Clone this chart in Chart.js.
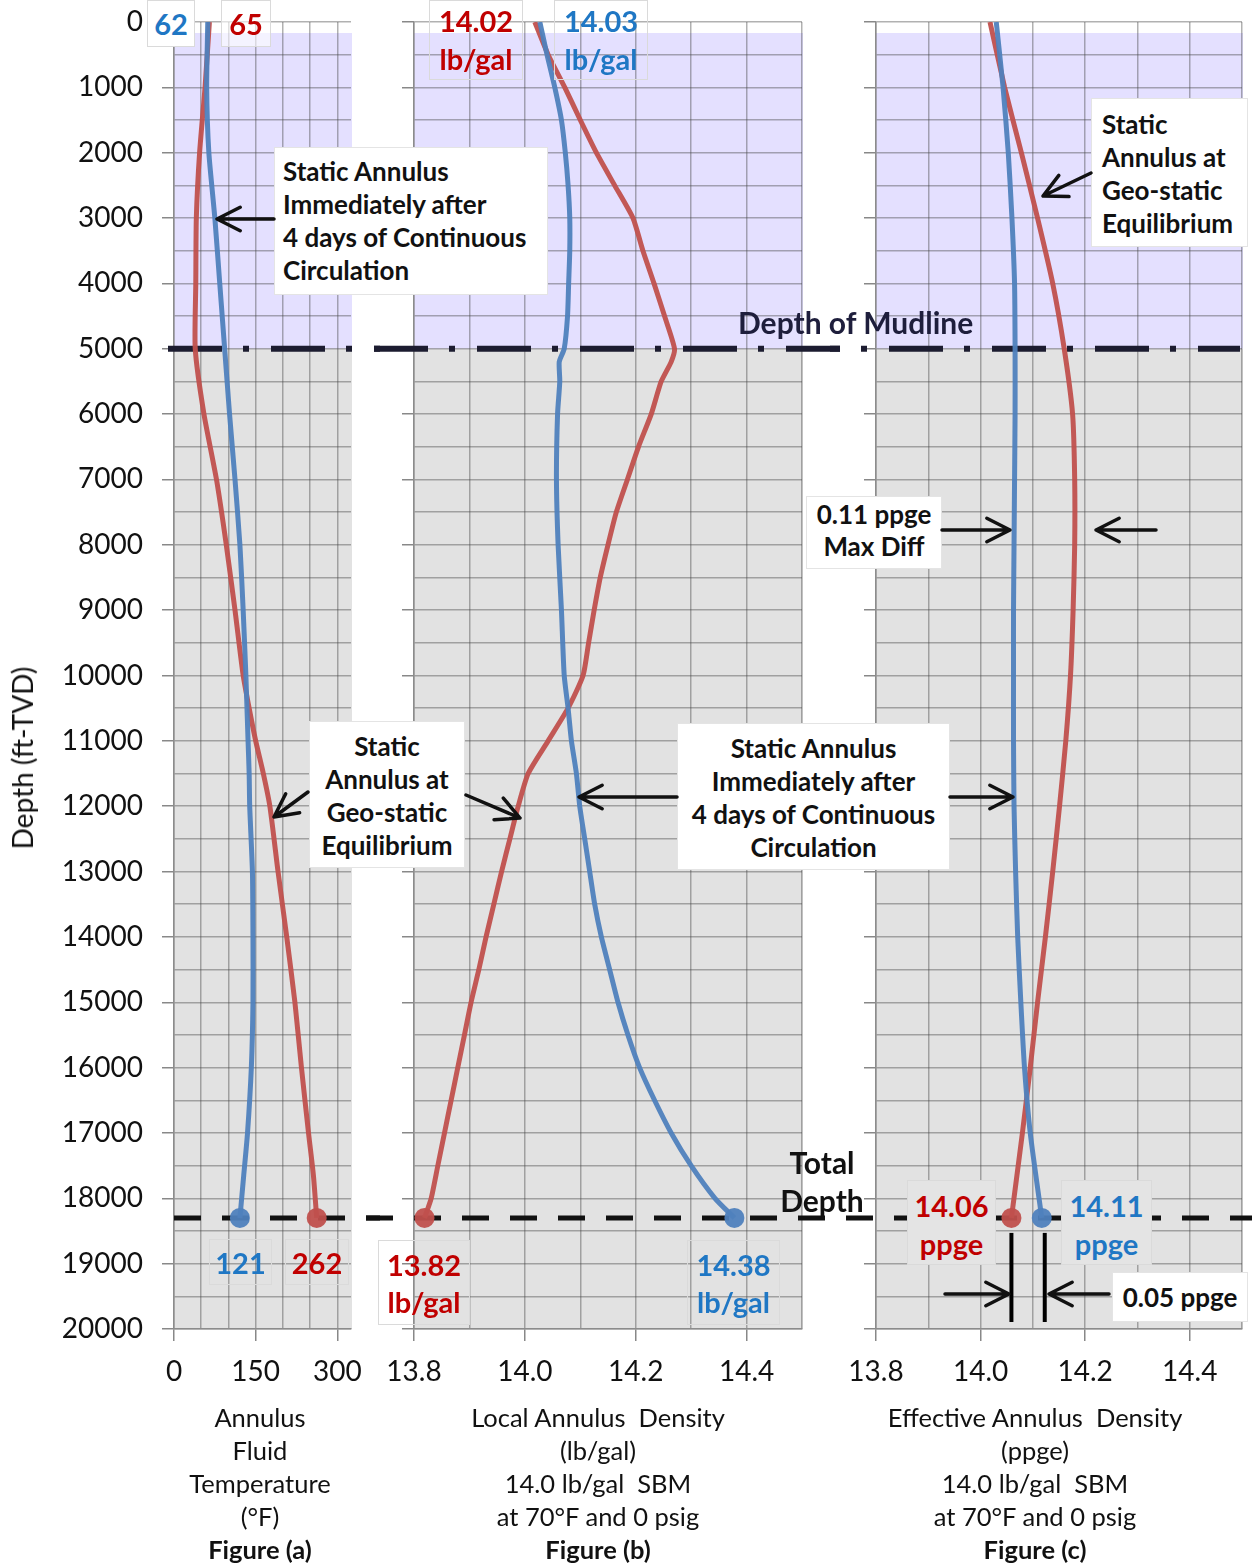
<!DOCTYPE html>
<html lang="en">
<head>
<meta charset="UTF-8" />
<title>Annulus Temperature and Density vs Depth</title>
<script src="https://cdn.jsdelivr.net/npm/chart.js"></script>
<style>
  body { margin: 0; background: #fff; font-family: Lato, "Open Sans", sans-serif; color: #111; }
  #page { position: relative; width: 1252px; height: 1566px; overflow: hidden; }
  canvas { position: absolute; top: 0; }
  .note {
    position: absolute; background: #fff; border: 1px solid #e4e4e4;
    font-weight: bold; font-size: 26px; line-height: 33px; color: #111;
    box-sizing: border-box; white-space: nowrap;
  }
  .val {
    position: absolute; font-weight: bold; font-size: 29px; line-height: 38px;
    text-align: center; border: 1px solid #dadada; box-sizing: border-box; white-space: nowrap;
  }
  .blue { color: #1f77c4; }
  .red { color: #c00000; }
  .axis-title {
    position: absolute; top: 1401px; text-align: center; font-size: 25.5px;
    line-height: 33px; white-space: nowrap; transform: translateX(-50%);
  }
  .label { position: absolute; font-weight: bold; font-size: 30px; line-height: 36px; white-space: nowrap; }
  #ytitle {
    position: absolute; left: 22px; top: 758px; font-size: 28px; white-space: nowrap;
    transform: translate(-50%, -50%) rotate(-90deg);
  }
  svg { position: absolute; left: 0; top: 0; }
</style>
</head>
<body>
<div id="page">
  <canvas id="chartA" width="380" height="1566" style="left:0px"></canvas>
  <canvas id="chartB" width="475" height="1566" style="left:365px"></canvas>
  <canvas id="chartC" width="422" height="1566" style="left:830px"></canvas>

  <div id="ytitle">Depth (ft-TVD)</div>

  <!-- value call-outs -->
  <div class="val blue" style="left:147px;top:0;width:48px;height:47px;padding-top:4px;background:#fff">62</div>
  <div class="val red" style="left:221px;top:0;width:50px;height:47px;padding-top:4px;background:rgba(255,255,255,0.6)">65</div>
  <div class="val red" style="left:429px;top:0;width:94px;height:80px;padding-top:1px">14.02<br>lb/gal</div>
  <div class="val blue" style="left:554px;top:0;width:94px;height:80px;padding-top:1px">14.03<br>lb/gal</div>
  <div class="val blue" style="left:209px;top:1239px;width:63px;height:46px;padding-top:4px">121</div>
  <div class="val red" style="left:285px;top:1239px;width:64px;height:46px;padding-top:4px">262</div>
  <div class="val red" style="left:378px;top:1240px;width:92px;height:85px;padding-top:5px;line-height:37px">13.82<br>lb/gal</div>
  <div class="val blue" style="left:687px;top:1240px;width:93px;height:85px;padding-top:5px;line-height:37px">14.38<br>lb/gal</div>
  <div class="val red" style="left:907px;top:1180px;width:89px;height:85px;padding-top:6px;background:#e4e4e4">14.06<br>ppge</div>
  <div class="val blue" style="left:1061px;top:1180px;width:91px;height:85px;padding-top:6px;background:#e4e4e4">14.11<br>ppge</div>

  <!-- text notes -->
  <div class="note" style="left:274px;top:147px;width:274px;height:148px;padding:7px 0 0 8px">Static Annulus<br>Immediately after<br>4 days of Continuous<br>Circulation</div>
  <div class="note" style="left:309px;top:721px;width:156px;height:147px;padding-top:8px;text-align:center">Static<br>Annulus at<br>Geo-static<br>Equilibrium</div>
  <div class="note" style="left:677px;top:723px;width:273px;height:147px;padding-top:8px;text-align:center">Static Annulus<br>Immediately after<br>4 days of Continuous<br>Circulation</div>
  <div class="note" style="left:806px;top:496px;width:136px;height:73px;padding-top:1px;line-height:32px;text-align:center">0.11 ppge<br>Max Diff</div>
  <div class="note" style="left:1091px;top:98px;width:157px;height:149px;padding:9px 0 0 10px">Static<br>Annulus at<br>Geo-static<br>Equilibrium</div>
  <div class="note" style="left:1112px;top:1272px;width:136px;height:50px;padding-top:8px;text-align:center">0.05 ppge</div>

  <div class="label" style="left:738px;top:304px;color:#1e1e3c">Depth of Mudline</div>
  <div class="label" style="left:822px;top:1144px;transform:translateX(-50%)">Total</div>
  <div class="label" style="left:822px;top:1182px;transform:translateX(-50%)">Depth</div>

  <div class="axis-title" style="left:260px">Annulus<br>Fluid<br>Temperature<br>(°F)<br><b>Figure (a)</b></div>
  <div class="axis-title" style="left:598px">Local Annulus&nbsp; Density<br>(lb/gal)<br>14.0 lb/gal&nbsp; SBM<br>at 70°F and 0 psig<br><b>Figure (b)</b></div>
  <div class="axis-title" style="left:1035px">Effective Annulus&nbsp; Density<br>(ppge)<br>14.0 lb/gal&nbsp; SBM<br>at 70°F and 0 psig<br><b>Figure (c)</b></div>

  <svg id="arrows" width="1252" height="1566"></svg>
</div>

<script>
  Chart.defaults.font.family = 'Lato, "Open Sans", sans-serif';

  const RED = 'rgba(192, 80, 77, 0.95)';
  const BLUE = 'rgba(79, 129, 189, 0.95)';
  const GRID = 'rgba(70, 70, 70, 0.42)';

  const mudlineDepth = 5000;
  const totalDepth = 18300;

  // Figure (a): annulus fluid temperature, deg F
  const tempDepth = [0, 1000, 2000, 3000, 4000, 5000, 6000, 7000, 8000, 9000, 10000, 10500,
                     11000, 11500, 12000, 13000, 14000, 15000, 16000, 17000, 17650, 18300];
  const tempCirc = [62, 60, 64, 75, 84, 93, 102, 112, 121, 127, 132, 134,
                    136, 138, 139, 144, 145, 145, 142, 135, 128, 121];
  const tempGeo = [65, 57, 47, 41, 40, 39, 55, 78, 96, 112, 127, 138,
                   150, 164, 176, 191, 207, 222, 234, 247, 256, 262];

  // Figure (b): local annulus density, lb/gal
  const localCircDepth = [0, 500, 1000, 1500, 2000, 2500, 3000, 3500, 4000, 4500, 5000, 5200,
                          5500, 6000, 7000, 8000, 9000, 10000, 10500, 11000, 11500, 12000,
                          12500, 13000, 13500, 14000, 14500, 15000, 15500, 16000, 16500,
                          17000, 17500, 18000, 18300];
  const localCirc = [14.027, 14.040, 14.054, 14.066, 14.073, 14.078, 14.081, 14.081, 14.079,
                     14.077, 14.071, 14.062, 14.063, 14.059, 14.057, 14.060, 14.066, 14.071,
                     14.078, 14.084, 14.093, 14.099, 14.108, 14.117, 14.126, 14.138, 14.153,
                     14.168, 14.186, 14.207, 14.234, 14.264, 14.300, 14.343, 14.378];
  const localGeoDepth = [0, 500, 1000, 1500, 2000, 2500, 3000, 3500, 4000, 4500, 5000, 5200,
                         5500, 6000, 6500, 7000, 7500, 8000, 8500, 9000, 9500, 10000, 10500,
                         11000, 11500, 12000, 12500, 13000, 13500, 14000, 14500, 15000, 15500,
                         16000, 16500, 17000, 17500, 18000, 18300];
  const localGeo = [14.018, 14.042, 14.072, 14.100, 14.129, 14.162, 14.195, 14.213, 14.233,
                    14.252, 14.270, 14.264, 14.246, 14.228, 14.205, 14.185, 14.165, 14.150,
                    14.136, 14.125, 14.115, 14.105, 14.078, 14.042, 14.006, 13.988, 13.973,
                    13.958, 13.944, 13.930, 13.917, 13.903, 13.891, 13.879, 13.867, 13.855,
                    13.843, 13.831, 13.819];

  // Figure (c): effective annulus density, ppge
  const effDepth = [0, 1000, 2000, 3000, 4000, 5000, 6000, 7000, 8000, 9000, 10000,
                    11000, 12000, 13000, 14000, 15000, 16000, 17000, 18300];
  const effCirc = [14.030, 14.043, 14.053, 14.060, 14.065, 14.066, 14.066, 14.065, 14.064,
                   14.063, 14.063, 14.063, 14.064, 14.067, 14.071, 14.077, 14.084, 14.095, 14.117];
  const effGeo = [14.018, 14.046, 14.078, 14.109, 14.138, 14.160, 14.176, 14.180, 14.180,
                  14.177, 14.172, 14.163, 14.151, 14.138, 14.124, 14.109, 14.095, 14.080, 14.059];

  const tempTickLabels = [0, 150, 300];
  const densTickLabels = [13.8, 14.0, 14.2, 14.4];

  function toPoints(xs, ys) {
    return xs.map((x, i) => ({ x: x, y: ys[i] }));
  }

  function series(xs, ys, color) {
    return {
      data: toPoints(xs, ys),
      showLine: true,
      borderColor: color,
      backgroundColor: color,
      borderWidth: 5,
      tension: 0.2,
      pointRadius: ctx => ctx.dataIndex === ctx.dataset.data.length - 1 ? 10 : 0,
      pointHoverRadius: 0,
      pointBorderWidth: 0
    };
  }

  // purple above the mudline, grey below
  const zonesPlugin = {
    id: 'zones',
    beforeDraw(chart) {
      const { ctx, chartArea: a, scales: { y } } = chart;
      const yMud = y.getPixelForValue(mudlineDepth);
      ctx.save();
      ctx.fillStyle = '#e4e0ff';
      ctx.fillRect(a.left, a.top + 11, a.right - a.left + 1, yMud - a.top - 11);
      ctx.fillStyle = '#e2e2e2';
      ctx.fillRect(a.left, yMud, a.right - a.left + 1, a.bottom - yMud);
      ctx.restore();
    }
  };

  // mudline and total depth lines running through all three panels
  function refLinesPlugin(pageLeft, markEnds) {
    return {
      id: 'refLines',
      beforeDatasetsDraw(chart) {
        const { ctx, scales: { y } } = chart;
        ctx.save();
        ctx.lineCap = 'butt';
        ctx.strokeStyle = '#1c1c30';
        ctx.lineWidth = 6;
        ctx.setLineDash([54, 21, 6, 22]);
        const ym = y.getPixelForValue(mudlineDepth);
        ctx.beginPath();
        ctx.moveTo(168 - pageLeft, ym);
        ctx.lineTo(1240 - pageLeft, ym);
        ctx.stroke();

        ctx.strokeStyle = '#111';
        ctx.lineWidth = 5;
        ctx.setLineDash([27, 21]);
        const yt = y.getPixelForValue(totalDepth);
        ctx.beginPath();
        ctx.moveTo(174 - pageLeft, yt);
        ctx.lineTo(1252 - pageLeft, yt);
        ctx.stroke();
        ctx.restore();
      },
      afterDatasetsDraw(chart) {
        if (!markEnds) return;
        const { ctx, chartArea: a, scales: { x, y } } = chart;
        const yt = y.getPixelForValue(totalDepth);
        ctx.save();
        ctx.strokeStyle = '#000';
        ctx.lineWidth = 4;
        markEnds.forEach(v => {
          const px = x.getPixelForValue(v) + (v === markEnds[1] ? 3 : 0);
          ctx.beginPath();
          ctx.moveTo(px, yt + 15);
          ctx.lineTo(px, a.bottom - 7);
          ctx.stroke();
        });
        ctx.restore();
      }
    };
  }

  function makeChart(id, cfg) {
    const canvas = document.getElementById(id);
    const pageLeft = parseFloat(canvas.style.left);
    return new Chart(canvas, {
      type: 'scatter',
      data: {
        datasets: [
          series(cfg.circX, cfg.circY, BLUE),
          series(cfg.geoX, cfg.geoY, RED)
        ]
      },
      options: {
        responsive: false,
        animation: false,
        events: [],
        layout: { padding: { left: 0, right: cfg.padRight, top: 22, bottom: 0 } },
        plugins: { legend: { display: false }, tooltip: { enabled: false } },
        scales: {
          x: {
            type: 'linear',
            min: cfg.xMin,
            max: cfg.xMax,
            ticks: {
              stepSize: cfg.xStep,
              includeBounds: false,
              autoSkip: false,
              maxRotation: 0,
              padding: 14,
              color: '#111',
              font: { size: 28 },
              callback: v => cfg.isMajorX(v) ? cfg.fmtX(v) : ''
            },
            grid: {
              color: GRID,
              lineWidth: 1.5,
              tickLength: 12,
              tickColor: c => cfg.isMajorX(c.tick.value) ? '#888' : 'rgba(0,0,0,0)'
            },
            border: { color: '#8c8c8c', width: 1.5 },
            afterFit: s => { s.height = 237; s.paddingLeft = 0; s.paddingRight = 0; }
          },
          y: {
            type: 'linear',
            reverse: true,
            min: 0,
            max: 20000,
            ticks: {
              stepSize: 500,
              autoSkip: false,
              display: cfg.showY,
              padding: 19,
              color: '#111',
              font: { size: 28 },
              callback: v => v % 1000 === 0 ? String(v) : ''
            },
            grid: {
              color: GRID,
              lineWidth: 1.5,
              tickLength: 12,
              tickColor: c => c.tick.value % 1000 === 0 ? '#888' : 'rgba(0,0,0,0)'
            },
            border: { color: '#8c8c8c', width: 1.5 },
            afterFit: s => { s.width = cfg.yWidth; s.paddingTop = 0; s.paddingBottom = 0; }
          }
        }
      },
      plugins: [zonesPlugin, refLinesPlugin(pageLeft, cfg.markEnds)]
    });
  }

  makeChart('chartA', {
    circX: tempCirc, circY: tempDepth, geoX: tempGeo, geoY: tempDepth,
    xMin: 0, xMax: 325, xStep: 50,
    isMajorX: v => tempTickLabels.includes(v),
    fmtX: v => String(v),
    showY: true, yWidth: 174, padRight: 29
  });

  const isDensMajor = v => densTickLabels.some(t => Math.abs(t - v) < 1e-6);

  makeChart('chartB', {
    circX: localCirc, circY: localCircDepth, geoX: localGeo, geoY: localGeoDepth,
    xMin: 13.8, xMax: 14.5, xStep: 0.1,
    isMajorX: isDensMajor,
    fmtX: v => v.toFixed(1),
    showY: false, yWidth: 49, padRight: 38
  });

  makeChart('chartC', {
    circX: effCirc, circY: effDepth, geoX: effGeo, geoY: effDepth,
    xMin: 13.8, xMax: 14.5, xStep: 0.1,
    isMajorX: isDensMajor,
    fmtX: v => v.toFixed(1),
    showY: false, yWidth: 46, padRight: 4,
    markEnds: [effGeo[effGeo.length - 1], effCirc[effCirc.length - 1]]
  });

  // call-out arrows: tail x, tail y, tip x, tip y
  const arrows = [
    [274, 219, 217, 219],
    [308, 792, 274, 817],
    [466, 795, 520, 818],
    [677, 797, 579, 797],
    [950, 797, 1013, 797],
    [942, 530, 1010, 530],
    [1156, 530, 1096, 530],
    [1091, 173, 1043, 196],
    [945, 1294, 1009, 1294],
    [1109, 1294, 1049, 1294]
  ];
  const svg = document.getElementById('arrows');
  let paths = '';
  arrows.forEach(([x1, y1, x2, y2]) => {
    const ang = Math.atan2(y2 - y1, x2 - x1);
    const len = 26, spread = 0.47;
    const hx1 = x2 - len * Math.cos(ang - spread), hy1 = y2 - len * Math.sin(ang - spread);
    const hx2 = x2 - len * Math.cos(ang + spread), hy2 = y2 - len * Math.sin(ang + spread);
    paths += `<path d="M${x1},${y1} L${x2},${y2} M${hx1},${hy1} L${x2},${y2} L${hx2},${hy2}" ` +
             `fill="none" stroke="#111" stroke-width="3.5" stroke-linecap="round" stroke-linejoin="round"/>`;
  });
  svg.innerHTML = paths;
</script>
</body>
</html>
